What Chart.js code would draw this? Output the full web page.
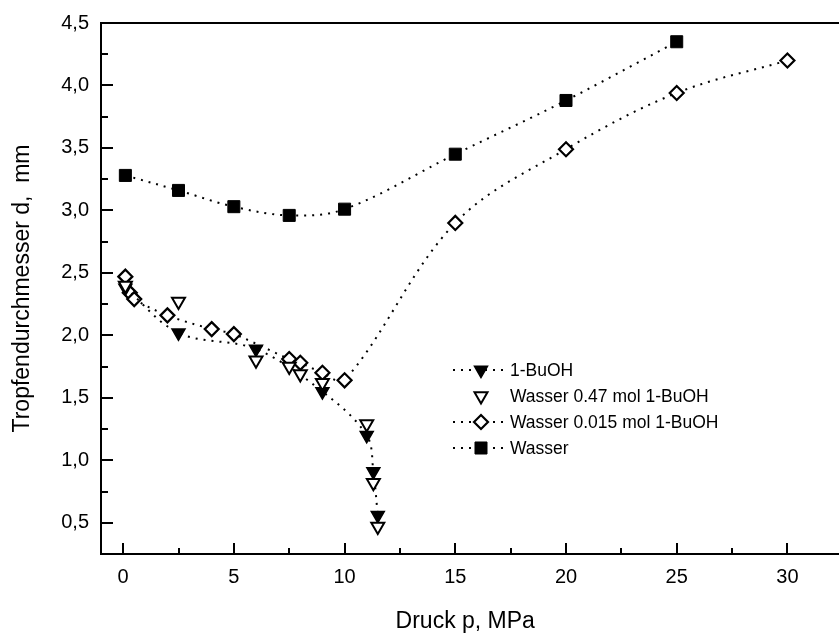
<!DOCTYPE html>
<html>
<head>
<meta charset="utf-8">
<script src="https://cdn.jsdelivr.net/npm/chart.js@4/dist/chart.umd.min.js"></script>
<style>
  html, body { margin: 0; padding: 0; background: #fff; }
  #wrap { width: 839px; height: 639px; }
</style>
</head>
<body>
<div id="wrap"><canvas id="c" width="839" height="639"></canvas></div>
<script>
// ---- data ----
const seriesNames = ['1-BuOH', 'Wasser 0.47 mol 1-BuOH', 'Wasser 0.015 mol 1-BuOH', 'Wasser'];

const buohX = [0.1, 2.5, 6, 9, 11, 11.3, 11.5];
const buohY = [2.38, 2.02, 1.89, 1.55, 1.20, 0.91, 0.56];

const w047X = [0.1, 2.5, 6, 7.5, 8, 9, 11, 11.3, 11.5];
const w047Y = [2.40, 2.27, 1.80, 1.75, 1.69, 1.62, 1.29, 0.82, 0.47];

const w0015X = [0.1, 0.3, 0.5, 2, 4, 5, 7.5, 8, 9, 10, 15, 20, 25, 30];
const w0015Y = [2.47, 2.34, 2.29, 2.16, 2.05, 2.01, 1.81, 1.78, 1.70, 1.64, 2.90, 3.49, 3.94, 4.20];

const wasserX = [0.1, 2.5, 5, 7.5, 10, 15, 20, 25];
const wasserY = [3.28, 3.16, 3.03, 2.96, 3.01, 3.45, 3.88, 4.35];

const xTicks = [0, 5, 10, 15, 20, 25, 30];
const xMinorTicks = [2.5, 7.5, 12.5, 17.5, 22.5, 27.5];
const yTicks = [0.5, 1.0, 1.5, 2.0, 2.5, 3.0, 3.5, 4.0, 4.5];
const yTickLabels = ['0,5', '1,0', '1,5', '2,0', '2,5', '3,0', '3,5', '4,0', '4,5'];
const yMinorTicks = [0.75, 1.25, 1.75, 2.25, 2.75, 3.25, 3.75, 4.25];

const xTitle = 'Druck p, MPa';
const yTitle = 'Tropfendurchmesser d,  mm';

function pts(xs, ys) { return xs.map((x, i) => ({ x: x, y: ys[i] })); }

const FONT = "'Liberation Sans', Arial, Helvetica, sans-serif";
const DOT = [2, 6];
const TENSION = 0.35;

const datasets = [
  { label: seriesNames[0], data: pts(buohX, buohY), showLine: true,
    pointStyle: 'triangle', rotation: 180, pointRadius: 7.5, pointHoverRadius: 7.5,
    backgroundColor: '#000', borderColor: '#000', pointBorderWidth: 1.5,
    borderWidth: 2, borderDash: DOT, tension: TENSION, order: 1 },
  { label: seriesNames[1], data: pts(w047X, w047Y), showLine: false,
    pointStyle: 'triangle', rotation: 180, pointRadius: 7.5, pointHoverRadius: 7.5,
    backgroundColor: '#fff', borderColor: '#000', pointBorderWidth: 2,
    borderWidth: 2, order: 0 },
  { label: seriesNames[2], data: pts(w0015X, w0015Y), showLine: true,
    pointStyle: 'rectRot', pointRadius: 7, pointHoverRadius: 7,
    backgroundColor: '#fff', borderColor: '#000', pointBorderWidth: 2.2,
    borderWidth: 2, borderDash: DOT, tension: TENSION, order: 2 },
  { label: seriesNames[3], data: pts(wasserX, wasserY), showLine: true,
    pointStyle: 'rect', pointRadius: 8.5, pointHoverRadius: 8.5,
    backgroundColor: '#000', borderColor: '#000', pointBorderWidth: 1,
    borderWidth: 2, borderDash: DOT, tension: TENSION, order: 3 }
];

const framePlugin = {
  id: 'frame',
  afterDraw(chart) {
    const ctx = chart.ctx;
    const a = chart.chartArea;
    const xs = chart.scales.x, ys = chart.scales.y;
    ctx.save();
    ctx.strokeStyle = '#000';
    ctx.lineWidth = 2;
    ctx.lineCap = 'square';
    ctx.beginPath();
    ctx.moveTo(chart.width + 2, a.top); ctx.lineTo(a.left, a.top);
    ctx.lineTo(a.left, a.bottom); ctx.lineTo(chart.width + 2, a.bottom);
    ctx.stroke();
    ctx.lineCap = 'butt';
    ctx.beginPath();
    xTicks.forEach(v => { const p = Math.round(xs.getPixelForValue(v)); ctx.moveTo(p, a.bottom); ctx.lineTo(p, a.bottom - 11); });
    xMinorTicks.forEach(v => { const p = Math.round(xs.getPixelForValue(v)); ctx.moveTo(p, a.bottom); ctx.lineTo(p, a.bottom - 6); });
    yTicks.forEach(v => { const p = Math.round(ys.getPixelForValue(v)); ctx.moveTo(a.left, p); ctx.lineTo(a.left + 12, p); });
    yMinorTicks.forEach(v => { const p = Math.round(ys.getPixelForValue(v)); ctx.moveTo(a.left, p); ctx.lineTo(a.left + 7, p); });
    ctx.stroke();

    // legend
    const lx = 453, lx2 = 503, mx = 481, tx = 510;
    const rowY = [370, 396, 422, 448];
    ctx.font = '17.5px ' + FONT;
    ctx.textBaseline = 'middle';
    ctx.textAlign = 'left';
    chart.data.datasets.forEach((ds, i) => {
      const y = rowY[i];
      if (ds.showLine) {
        ctx.save();
        ctx.setLineDash(DOT);
        ctx.lineWidth = 2;
        ctx.strokeStyle = '#000';
        ctx.beginPath(); ctx.moveTo(lx, y); ctx.lineTo(lx2, y); ctx.stroke();
        ctx.restore();
      }
      ctx.save();
      ctx.fillStyle = ds.backgroundColor;
      ctx.strokeStyle = ds.borderColor;
      ctx.lineWidth = ds.pointBorderWidth;
      Chart.helpers.drawPoint(ctx, { pointStyle: ds.pointStyle, rotation: ds.rotation || 0, radius: ds.pointRadius, borderWidth: ds.pointBorderWidth }, mx, y);
      ctx.restore();
      ctx.fillStyle = '#000';
      ctx.fillText(ds.label, tx, y + 1);
    });
    ctx.restore();
  }
};

new Chart(document.getElementById('c'), {
  type: 'scatter',
  data: { datasets: datasets },
  options: {
    responsive: false,
    animation: false,
    layout: { padding: { top: 23, right: 0, left: 0, bottom: 0 } },
    plugins: { legend: { display: false }, tooltip: { enabled: false } },
    scales: {
      x: {
        type: 'linear', min: -1, max: 31.9,
        afterBuildTicks: s => { s.ticks = xTicks.map(v => ({ value: v })); },
        afterFit: s => { s.height = 85; s.paddingRight = 0; s.paddingLeft = 0; },
        grid: { display: false, drawTicks: false },
        border: { display: false },
        ticks: { padding: 11, color: '#000', font: { family: FONT, size: 20 }, maxRotation: 0,
                 callback: v => String(v) },
        title: { display: true, text: xTitle, color: '#000', font: { family: FONT, size: 23 }, padding: { top: 0, bottom: 4 } }
      },
      y: {
        type: 'linear', min: 0.25, max: 4.5,
        afterBuildTicks: s => { s.ticks = yTicks.map(v => ({ value: v })); },
        afterFit: s => { s.width = 101; s.paddingTop = 0; s.paddingBottom = 0; },
        grid: { display: false, drawTicks: false },
        border: { display: false },
        ticks: { padding: 12, color: '#000', font: { family: FONT, size: 20 },
                 callback: v => { const i = yTicks.indexOf(v); return i >= 0 ? yTickLabels[i] : ''; } },
        title: { display: true, text: yTitle, color: '#000', font: { family: FONT, size: 23 }, padding: { top: 9, bottom: 0 } }
      }
    }
  },
  plugins: [framePlugin]
});
</script>
</body>
</html>
